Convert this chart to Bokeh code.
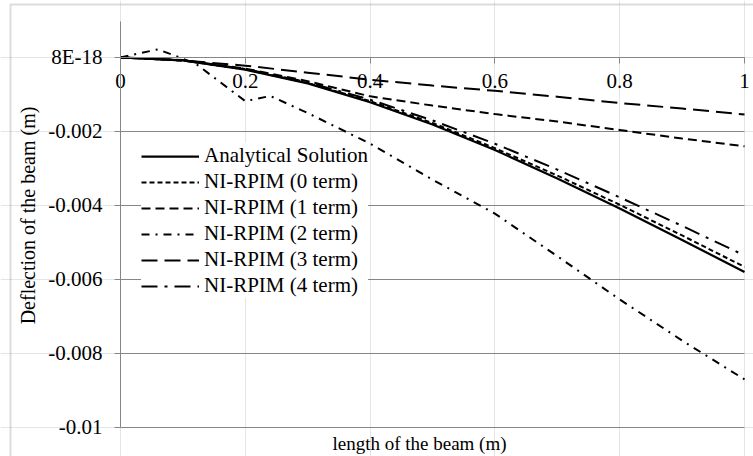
from bokeh.plotting import figure
from bokeh.models import LinearAxis, FixedTicker, Legend, LegendItem, BoxAnnotation, Range1d, Grid
from bokeh.embed import file_html
from bokeh.resources import INLINE

# ---- data ----
x_nodes = [0, 0.1, 0.2, 0.3, 0.4, 0.5, 0.6, 0.7, 0.8, 0.9, 1.0]
analytical = [0, -0.00008, -0.00033, -0.0007, -0.00121, -0.00181, -0.0025, -0.00327, -0.00408, -0.00493, -0.0058]
term0 = [0, -0.00008, -0.00032, -0.00069, -0.00118, -0.00177, -0.00245, -0.00319, -0.00398, -0.00481, -0.00566]
term1 = [0, -0.00007, -0.0003, -0.00064, -0.00105, -0.0013, -0.00153, -0.00173, -0.00196, -0.00219, -0.0024]
x_term2 = [0, 0.06, 0.12, 0.2, 0.24, 0.3, 0.4, 0.5, 0.6, 0.7, 0.8, 0.9, 1.0]
term2 = [0, 0.00022, -0.00016, -0.00118, -0.00104, -0.0015, -0.00233, -0.0033, -0.00422, -0.00537, -0.00654, -0.00765, -0.0087]
term3 = [0, -0.00008, -0.00022, -0.00041, -0.0006, -0.00076, -0.0009, -0.00106, -0.00123, -0.00138, -0.00154]
term4 = [0, -0.00008, -0.00031, -0.00067, -0.00114, -0.0017, -0.00233, -0.00303, -0.00378, -0.00455, -0.00535]

series_names = ["Analytical Solution", "NI-RPIM (0 term)", "NI-RPIM (1 term)",
                "NI-RPIM (2 term)", "NI-RPIM (3 term)", "NI-RPIM (4 term)"]

x_ticks = [0, 0.2, 0.4, 0.6, 0.8, 1]
x_tick_labels = ["0", "0.2", "0.4", "0.6", "0.8", "1"]
y_ticks = [-0.01, -0.008, -0.006, -0.004, -0.002, 0]
y_tick_labels = ["-0.01", "-0.008", "-0.006", "-0.004", "-0.002", "8E-18"]

x_title = "length of the beam (m)"
y_title = "Deflection of the beam (m)"

# ---- styles / layout ----
GRAY = "#868686"
FONT = "Liberation Serif"
TICK_FS = "21px"
LEG_FS = "21px"

W, H = 753, 456
X0, X1 = -0.1923, 1.0144          # visible x span (whole canvas)
Y0, Y1 = -0.010784, 0.0015405     # visible y span (whole canvas)

p = figure(width=W, height=H, output_backend="svg", toolbar_location=None,
           x_axis_location=None, y_axis_location=None,
           x_range=Range1d(X0, X1), y_range=Range1d(Y0, Y1),
           min_border_left=0, min_border_right=0, min_border_top=0, min_border_bottom=0)
p.background_fill_color = "white"
p.border_fill_color = "white"
p.outline_line_color = None

# horizontal gridlines limited to the plot area x in [0, 1]
ygrid = Grid(dimension=1, ticker=FixedTicker(ticks=y_ticks), cross_bounds=(0, 1),
             grid_line_color=GRAY, grid_line_width=1)
p.add_layout(ygrid)


def style_ticks(ax):
    ax.major_tick_out = 6
    ax.major_tick_in = 0
    ax.minor_tick_out = 0
    ax.minor_tick_in = 0
    ax.axis_line_color = GRAY
    ax.major_tick_line_color = GRAY
    ax.major_label_text_font = FONT
    ax.major_label_text_font_size = TICK_FS
    ax.major_label_text_color = "#000000"


def style_title(ax, fs):
    ax.axis_line_color = None
    ax.major_tick_out = 0
    ax.major_tick_in = 0
    ax.minor_tick_out = 0
    ax.minor_tick_in = 0
    ax.major_label_standoff = 0
    ax.axis_label_text_font = FONT
    ax.axis_label_text_font_size = fs
    ax.axis_label_text_font_style = "normal"
    ax.axis_label_text_color = "#000000"


# value axis (y) at x = 0
yax = LinearAxis(fixed_location=0, ticker=FixedTicker(ticks=y_ticks), bounds=(-0.01, 0.00097),
                 major_label_overrides=dict(zip(y_ticks, y_tick_labels)))
style_ticks(yax)
yax.major_label_standoff = 12
p.add_layout(yax, "left")

# y title
ytax = LinearAxis(fixed_location=0, ticker=FixedTicker(ticks=[]), bounds=(-0.01, 0.00146),
                  axis_label=y_title)
style_title(ytax, "20px")
ytax.axis_label_standoff = 82
p.add_layout(ytax, "left")

# x axis crossing at y = 0
xax = LinearAxis(fixed_location=0, ticker=FixedTicker(ticks=x_ticks), bounds=(0, 1),
                 major_label_overrides=dict(zip(x_ticks, x_tick_labels)))
style_ticks(xax)
xax.major_label_standoff = 11
p.add_layout(xax, "below")

# x title under the plot area
xtax = LinearAxis(fixed_location=-0.01, ticker=FixedTicker(ticks=[]), bounds=(-0.042, 1.0),
                  axis_label=x_title)
style_title(xtax, "19px")
xtax.axis_label_standoff = 5
p.add_layout(xtax, "below")

# ---- series ----
r_an = p.line(x_nodes, analytical, line_color="black", line_width=2.25)
r0 = p.line(x_nodes, term0, line_color="black", line_width=2, line_dash="5 3")
r1 = p.line(x_nodes, term1, line_color="black", line_width=2, line_dash="9 5")
r2 = p.line(x_term2, term2, line_color="black", line_width=2, line_dash="8 6 2 6")
r3 = p.line(x_nodes, term3, line_color="black", line_width=2, line_dash="16 7")
r4 = p.line(x_nodes, term4, line_color="black", line_width=2, line_dash="16 7 3 7")

renderers = [r_an, r0, r1, r2, r3, r4]
legend = Legend(items=[LegendItem(label=n, renderers=[r]) for n, r in zip(series_names, renderers)],
                location=(141, 158), padding=4, spacing=1, margin=0,
                glyph_width=58, glyph_height=24, label_height=24,
                label_standoff=5, border_line_color=None, background_fill_color="white",
                background_fill_alpha=1.0,
                label_text_font=FONT, label_text_font_size=LEG_FS, label_text_color="#000000")
p.add_layout(legend)

# outer chart border: left edge 10 px and top edge 4 px in from the canvas corner
dx = (X1 - X0) / W
dy = (Y1 - Y0) / H
border = BoxAnnotation(left=X0 + 10 * dx, right=X1 + 20 * dx, top=Y1 - 4 * dy, bottom=Y0 - 20 * dy,
                       fill_color=None, line_color="#8c8c8c", line_width=2, level="overlay")
p.add_layout(border)

open("out.html", "w").write(file_html(p, INLINE))
